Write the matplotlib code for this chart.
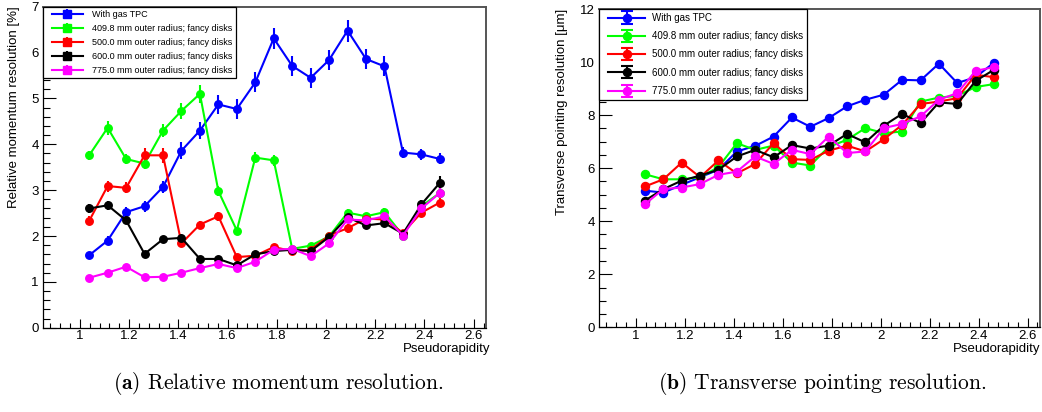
#!/usr/bin/env python3
"""Momentum and pointing resolution vs pseudorapidity, two panels."""

import numpy as np
import matplotlib
matplotlib.use('Agg')
import matplotlib.pyplot as plt
from matplotlib.ticker import MultipleLocator, FuncFormatter
from matplotlib.container import ErrorbarContainer
from matplotlib.legend_handler import HandlerErrorbar

plt.rcParams['font.family'] = ['Liberation Sans', 'DejaVu Sans']
plt.rcParams['mathtext.fontset'] = 'cm'

# ---------------------------------------------------------------------------
# Data (bin centres in pseudorapidity)
# ---------------------------------------------------------------------------
eta = [1.0375, 1.1125, 1.1875, 1.2625, 1.3375, 1.4125, 1.4875, 1.5625,
       1.6375, 1.7125, 1.7875, 1.8625, 1.9375, 2.0125, 2.0875, 2.1625,
       2.2375, 2.3125, 2.3875, 2.4625]

labels = ['With gas TPC',
          '409.8 mm outer radius; fancy disks',
          '500.0 mm outer radius; fancy disks',
          '600.0 mm outer radius; fancy disks',
          '775.0 mm outer radius; fancy disks']
colors = ['#0000ff', '#00ff00', '#ff0000', '#000000', '#ff00ff']

# relative momentum resolution [%]
mom_tpc  = [1.58, 1.90, 2.52, 2.65, 3.07, 3.86, 4.30, 4.87, 4.77, 5.35,
            6.31, 5.71, 5.45, 5.84, 6.48, 5.86, 5.70, 3.82, 3.78, 3.68]
mom_410  = [3.76, 4.36, 3.68, 3.58, 4.30, 4.73, 5.10, 2.98, 2.12, 3.71,
            3.65, 1.72, 1.79, 1.99, 2.51, 2.43, 2.52, 2.01, 2.65, 2.94]
mom_500  = [2.33, 3.09, 3.05, 3.76, 3.76, 1.84, 2.25, 2.43, 1.54, 1.57,
            1.76, 1.67, 1.70, 2.01, 2.17, 2.38, 2.36, 2.07, 2.51, 2.73]
mom_600  = [2.60, 2.67, 2.34, 1.61, 1.93, 1.96, 1.50, 1.50, 1.36, 1.60,
            1.67, 1.70, 1.67, 1.98, 2.41, 2.23, 2.28, 2.05, 2.69, 3.16]
mom_775  = [1.09, 1.20, 1.33, 1.10, 1.11, 1.20, 1.30, 1.39, 1.30, 1.44,
            1.70, 1.72, 1.56, 1.84, 2.36, 2.34, 2.43, 2.01, 2.60, 2.94]

mom_err_tpc = [0.08, 0.10, 0.12, 0.12, 0.14, 0.18, 0.18, 0.20, 0.21, 0.22,
               0.23, 0.22, 0.22, 0.22, 0.24, 0.22, 0.22, 0.12, 0.12, 0.12]
mom_err_410 = [0.10, 0.15, 0.10, 0.12, 0.15, 0.17, 0.20, 0.10, 0.07, 0.12,
               0.12, 0.06, 0.06, 0.07, 0.08, 0.08, 0.08, 0.06, 0.08, 0.10]
mom_err_500 = [0.10, 0.12, 0.12, 0.16, 0.16, 0.08, 0.08, 0.10, 0.06, 0.06,
               0.06, 0.06, 0.06, 0.07, 0.10, 0.08, 0.08, 0.06, 0.08, 0.10]
mom_err_600 = [0.10, 0.10, 0.08, 0.06, 0.07, 0.08, 0.06, 0.06, 0.05, 0.06,
               0.06, 0.06, 0.06, 0.07, 0.08, 0.07, 0.07, 0.06, 0.10, 0.15]
mom_err_775 = [0.05, 0.05, 0.05, 0.05, 0.05, 0.05, 0.05, 0.05, 0.05, 0.05,
               0.06, 0.06, 0.06, 0.06, 0.08, 0.07, 0.07, 0.06, 0.08, 0.10]

# transverse pointing resolution [um]
pnt_tpc  = [5.15, 5.08, 5.37, 5.66, 5.94, 6.63, 6.84, 7.19, 7.91, 7.56,
            7.89, 8.33, 8.58, 8.77, 9.33, 9.31, 9.94, 9.21, 9.43, 9.98]
pnt_410  = [5.77, 5.58, 5.58, 5.66, 6.04, 6.94, 6.69, 6.85, 6.21, 6.10,
            6.80, 7.07, 7.51, 7.32, 7.38, 8.51, 8.66, 8.73, 9.06, 9.17]
pnt_500  = [5.31, 5.58, 6.21, 5.66, 6.29, 5.80, 6.16, 6.94, 6.34, 6.31,
            6.66, 6.85, 6.63, 7.09, 7.63, 8.42, 8.51, 8.64, 9.52, 9.43]
pnt_600  = [4.78, 5.21, 5.53, 5.72, 5.94, 6.44, 6.69, 6.41, 6.87, 6.74,
            6.85, 7.29, 6.97, 7.60, 8.05, 7.70, 8.48, 8.42, 9.29, 9.71]
pnt_775  = [4.64, 5.21, 5.27, 5.40, 5.75, 5.87, 6.44, 6.16, 6.69, 6.53,
            7.19, 6.57, 6.63, 7.51, 7.67, 7.95, 8.58, 8.83, 9.67, 9.81]

pnt_err_tpc = [0.08, 0.08, 0.08, 0.08, 0.08, 0.09, 0.09, 0.09, 0.10, 0.10,
               0.10, 0.10, 0.10, 0.11, 0.11, 0.11, 0.13, 0.11, 0.12, 0.13]
pnt_err_410 = [0.07, 0.07, 0.07, 0.07, 0.07, 0.08, 0.08, 0.08, 0.08, 0.08,
               0.08, 0.08, 0.09, 0.09, 0.09, 0.09, 0.10, 0.10, 0.10, 0.10]
pnt_err_500 = pnt_err_410
pnt_err_600 = pnt_err_410
pnt_err_775 = pnt_err_410

mom_series = [(mom_tpc, mom_err_tpc), (mom_410, mom_err_410), (mom_500, mom_err_500),
              (mom_600, mom_err_600), (mom_775, mom_err_775)]
pnt_series = [(pnt_tpc, pnt_err_tpc), (pnt_410, pnt_err_410), (pnt_500, pnt_err_500),
              (pnt_600, pnt_err_600), (pnt_775, pnt_err_775)]


def _style_axes(ax, ylim, ymajor, yminor):
    ax.set_xlim(0.85, 2.65)
    ax.set_ylim(*ylim)
    ax.xaxis.set_major_locator(MultipleLocator(0.2))
    ax.xaxis.set_minor_locator(MultipleLocator(0.04))
    ax.yaxis.set_major_locator(MultipleLocator(ymajor))
    ax.yaxis.set_minor_locator(MultipleLocator(yminor))
    ax.xaxis.set_major_formatter(FuncFormatter(lambda v, p: f'{v:g}'))
    ax.yaxis.set_major_formatter(FuncFormatter(lambda v, p: f'{v:g}'))
    ax.tick_params(axis='x', which='major', direction='in', length=6.5,
                   width=0.8, labelsize=9.5, pad=2)
    ax.tick_params(axis='x', which='minor', direction='in', length=3.3, width=0.8)
    ax.tick_params(axis='y', which='major', direction='in', length=9.4,
                   width=0.8, labelsize=9.5, pad=3)
    ax.tick_params(axis='y', which='minor', direction='in', length=5, width=0.8)
    for side in ('left', 'bottom'):
        ax.spines[side].set_color('black')
        ax.spines[side].set_linewidth(0.9)
    for side in ('top', 'right'):
        ax.spines[side].set_color('#555555')
        ax.spines[side].set_linewidth(1.4)


fig = plt.figure(figsize=(10.42, 4.12), dpi=100)
ax1 = fig.add_axes([0.0413, 0.2046, 0.4251, 0.7790])
ax2 = fig.add_axes([0.5749, 0.2056, 0.4231, 0.7725])

# ---- Panel (a): relative momentum resolution ----
for (vals, errs), c in zip(mom_series, colors):
    ax1.errorbar(eta, vals, yerr=errs, color=c, marker='o', ms=5.4,
                 lw=1.5, elinewidth=1.5, capsize=0)
proxies = [ax1.errorbar([np.nan], [np.nan], yerr=[np.nan], color=c, marker='s',
                        ms=5.2, lw=1.5, elinewidth=1.5, capsize=0)
           for c in colors]
_style_axes(ax1, (0, 7), 1, 0.2)
ax1.legend(proxies, labels, loc='upper left', bbox_to_anchor=(0, 1),
           borderaxespad=0, fontsize=6.5, borderpad=0.35, labelspacing=0.55,
           handlelength=4.1, handletextpad=1.0, fancybox=False,
           framealpha=1, edgecolor='black',
           handler_map={ErrorbarContainer: HandlerErrorbar(xpad=0.6, xerr_size=0.52)}
           ).get_frame().set_linewidth(0.9)
ax1.set_xlabel('Pseudorapidity', loc='right', fontsize=9.5)
ax1.xaxis.set_label_coords(1.009, -0.048)
ax1.set_ylabel('Relative momentum resolution [%]', loc='top', fontsize=9.5)
ax1.yaxis.set_label_coords(-0.052, 1.003)

# ---- Panel (b): transverse pointing resolution ----
for (vals, errs), c in zip(pnt_series, colors):
    ax2.errorbar(eta, vals, yerr=errs, color=c, marker='o', ms=5.8,
                 lw=1.5, elinewidth=1.5, capsize=0)
proxies2 = [ax2.errorbar([np.nan], [np.nan], yerr=[np.nan], color=c, marker='o',
                         ms=5.8, lw=1.5, elinewidth=1.5, capsize=4, capthick=1.5)
            for c in colors]
_style_axes(ax2, (0, 12), 2, 0.5)
ax2.legend(proxies2, labels, loc='upper left', bbox_to_anchor=(0, 1),
           borderaxespad=0, fontsize=7, borderpad=0.4, labelspacing=0.85,
           handlelength=4.28, handletextpad=0.72, fancybox=False,
           framealpha=1, edgecolor='black',
           handler_map={ErrorbarContainer: HandlerErrorbar(xpad=0.57, xerr_size=0.62)}
           ).get_frame().set_linewidth(0.9)
ax2.set_xlabel('Pseudorapidity', loc='right', fontsize=9.5)
ax2.xaxis.set_label_coords(1.0, -0.048)
ax2.set_ylabel('Transverse pointing resolution [\u03bcm]', loc='top', fontsize=9.5)
ax2.yaxis.set_label_coords(-0.070, 1.0)

# ---- Captions ----
fig.text(0.267, 0.070, r'$\mathbf{(a)}$ Relative momentum resolution.',
         ha='center', va='center', fontsize=15.5, family='cmr10')
fig.text(0.789, 0.070, r'$\mathbf{(b)}$ Transverse pointing resolution.',
         ha='center', va='center', fontsize=15.5, family='cmr10')

fig.savefig('out.png', dpi=100)
